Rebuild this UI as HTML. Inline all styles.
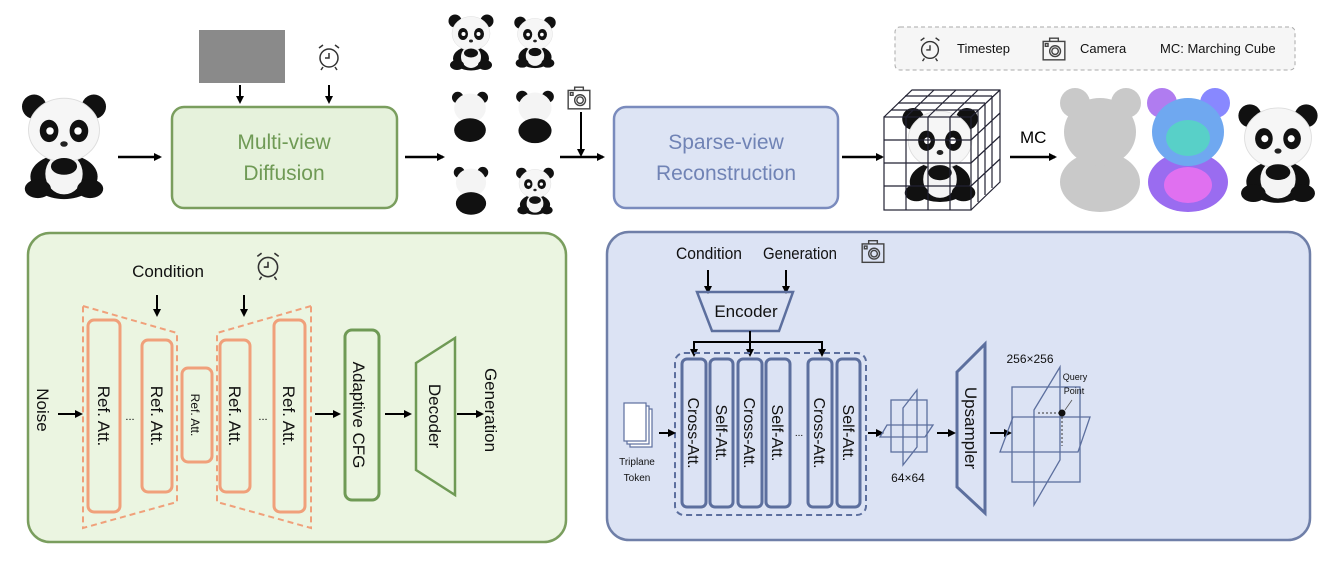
<!DOCTYPE html>
<html><head><meta charset="utf-8"><style>
html,body{margin:0;padding:0;background:#fff;}
svg{display:block;font-family:"Liberation Sans",sans-serif;}
</style></head><body>
<svg width="1341" height="564" viewBox="0 0 1341 564" xmlns="http://www.w3.org/2000/svg">
<defs>
<marker id="ah" markerWidth="8" markerHeight="8" refX="6" refY="4" orient="auto" markerUnits="userSpaceOnUse"><path d="M0,0 L8,4 L0,8 z" fill="#000"/></marker>
<symbol id="panda" viewBox="0 0 100 120">
<ellipse cx="50" cy="95" rx="36" ry="24" fill="#111"/>
<ellipse cx="50" cy="92" rx="20" ry="22" fill="#f4f4f4"/>
<ellipse cx="22" cy="108" rx="14" ry="10" fill="#111"/>
<ellipse cx="78" cy="108" rx="14" ry="10" fill="#111"/>
<circle cx="18" cy="20" r="13" fill="#111"/>
<circle cx="82" cy="20" r="13" fill="#111"/>
<ellipse cx="50" cy="45" rx="38" ry="34" fill="#f6f6f6" stroke="#ddd"/>
<ellipse cx="34" cy="46" rx="10" ry="12" fill="#111"/>
<ellipse cx="66" cy="46" rx="10" ry="12" fill="#111"/>
<circle cx="35" cy="46" r="4" fill="#fff"/>
<circle cx="65" cy="46" r="4" fill="#fff"/>
<ellipse cx="50" cy="60" rx="4" ry="3" fill="#222"/>
<ellipse cx="50" cy="84" rx="14" ry="9" fill="#111"/>
</symbol>
<symbol id="pback" viewBox="0 0 100 120">
<circle cx="22" cy="18" r="13" fill="#111"/>
<circle cx="78" cy="18" r="13" fill="#111"/>
<ellipse cx="50" cy="42" rx="36" ry="33" fill="#f4f4f4"/>
<ellipse cx="50" cy="92" rx="36" ry="27" fill="#111"/>
</symbol>
<symbol id="clock" viewBox="0 0 30 30">
<g fill="none" stroke="#333" stroke-width="1.5"><circle cx="15" cy="16" r="9"/><path d="M15,11 V16 H11"/><path d="M5,6 L9,3 M25,6 L21,3 M9,25 L7,28 M21,25 L23,28"/></g>
</symbol>
<symbol id="cam" viewBox="0 0 24 24">
<g fill="none" stroke="#444" stroke-width="1.3"><rect x="2" y="5" width="20" height="17"/><path d="M8,5 V2 H16 V5"/><circle cx="13" cy="14" r="5"/><circle cx="13" cy="14" r="3"/><rect x="4" y="7" width="2.5" height="2.5"/></g>
</symbol>
</defs>

<!-- TOP ROW -->
<use href="#panda" x="16" y="88" width="96" height="112"/>
<line x1="118" y1="157" x2="160" y2="157" stroke="#000" stroke-width="2.5" marker-end="url(#ah)"/>
<rect x="199" y="30" width="86" height="53" fill="#8a8a8a"/>
<use href="#clock" x="314" y="40" width="30" height="34"/>
<line x1="240" y1="85" x2="240" y2="102" stroke="#000" stroke-width="2" marker-end="url(#ah)"/>
<line x1="329" y1="85" x2="329" y2="102" stroke="#000" stroke-width="2" marker-end="url(#ah)"/>
<rect x="172" y="107" width="225" height="101" rx="12" fill="#e6f2dc" stroke="#7a9e5e" stroke-width="2.5"/>
<text x="284" y="149" font-size="21" fill="#6f9a55" text-anchor="middle">Multi-view</text>
<text x="284" y="180" font-size="21" fill="#6f9a55" text-anchor="middle">Diffusion</text>
<line x1="405" y1="157" x2="443" y2="157" stroke="#000" stroke-width="2.5" marker-end="url(#ah)"/>
<use href="#panda" x="446" y="8" width="50" height="66"/>
<use href="#panda" x="512" y="8" width="46" height="66"/>
<use href="#pback" x="448" y="82" width="44" height="68"/>
<use href="#pback" x="512" y="82" width="46" height="68"/>
<use href="#pback" x="450" y="158" width="42" height="64"/>
<use href="#panda" x="514" y="158" width="42" height="64"/>
<use href="#cam" x="566" y="85" width="26" height="26"/>
<line x1="581" y1="112" x2="581" y2="155" stroke="#000" stroke-width="2" marker-end="url(#ah)"/>
<line x1="560" y1="157" x2="603" y2="157" stroke="#000" stroke-width="2.5" marker-end="url(#ah)"/>
<rect x="614" y="107" width="224" height="101" rx="12" fill="#dde4f4" stroke="#7a8bbd" stroke-width="2.5"/>
<text x="726" y="149" font-size="21" fill="#7083b5" text-anchor="middle">Sparse-view</text>
<text x="726" y="180" font-size="21" fill="#7083b5" text-anchor="middle">Reconstruction</text>
<line x1="842" y1="157" x2="882" y2="157" stroke="#000" stroke-width="2.5" marker-end="url(#ah)"/>
<!-- cube -->
<use href="#panda" x="898" y="100" width="84" height="105"/>
<g fill="none" stroke="#223" stroke-width="1.2">
<rect x="884" y="117" width="87" height="93"/>
<path d="M884,117 L912,90 L1000,90 L1000,182 L971,210 M971,117 L1000,90"/>
<path d="M906,117V210 M928,117V210 M950,117V210 M884,140H971 M884,163H971 M884,186H971"/>
<path d="M906,117 L934,90 M928,117 L956,90 M950,117 L978,90 M891,110 L978,110 M898,103 L985,103 M905,96 L992,96"/>
<path d="M978,110V202 M985,103V195 M992,96V188 M971,140 L1000,113 M971,163 L1000,136 M971,186 L1000,159"/>
</g>
<text x="1020" y="143" font-size="17" fill="#000">MC</text>
<line x1="1010" y1="157" x2="1055" y2="157" stroke="#000" stroke-width="2.5" marker-end="url(#ah)"/>
<g fill="#c9c9c9"><circle cx="1075" cy="103" r="15"/><circle cx="1126" cy="103" r="15"/><ellipse cx="1100" cy="182" rx="40" ry="30"/><ellipse cx="1100" cy="132" rx="36" ry="34"/></g>
<g><circle cx="1162" cy="103" r="15" fill="#b07cf0"/><circle cx="1215" cy="103" r="15" fill="#8888ff"/><ellipse cx="1188" cy="182" rx="40" ry="30" fill="#9a6cf0"/><ellipse cx="1188" cy="132" rx="36" ry="34" fill="#6fa8f0"/><ellipse cx="1188" cy="138" rx="22" ry="18" fill="#58d0c8"/><ellipse cx="1188" cy="185" rx="24" ry="18" fill="#e070f0"/></g>
<use href="#panda" x="1234" y="92" width="88" height="118"/>
<!-- legend -->
<rect x="895" y="27" width="400" height="43" rx="5" fill="#f6f6f6" stroke="#aaa" stroke-dasharray="4,3"/>
<use href="#clock" x="916" y="34" width="28" height="30"/>
<text x="957" y="53" font-size="13" fill="#111">Timestep</text>
<use href="#cam" x="1041" y="36" width="26" height="26"/>
<text x="1080" y="53" font-size="13" fill="#111">Camera</text>
<text x="1160" y="53" font-size="13" fill="#111">MC:  Marching Cube</text>

<!-- BOTTOM LEFT -->
<rect x="28" y="233" width="538" height="309" rx="22" fill="#ebf5e1" stroke="#7a9e5e" stroke-width="2.5"/>
<text x="168" y="277" font-size="17" text-anchor="middle" fill="#111">Condition</text>
<use href="#clock" x="252" y="250" width="32" height="32"/>
<line x1="157" y1="295" x2="157" y2="315" stroke="#000" stroke-width="2" marker-end="url(#ah)"/>
<line x1="244" y1="295" x2="244" y2="315" stroke="#000" stroke-width="2" marker-end="url(#ah)"/>
<g fill="none" stroke="#f0a07a" stroke-width="2" stroke-dasharray="6,4">
<path d="M83,306 L177,333 L177,502 L83,528 Z"/>
<path d="M311,306 L217,333 L217,502 L311,528 Z"/>
</g>
<g fill="none" stroke="#f0a07a" stroke-width="3">
<rect x="88" y="320" width="32" height="192" rx="6"/>
<rect x="142" y="340" width="30" height="152" rx="6"/>
<rect x="182" y="368" width="30" height="94" rx="6"/>
<rect x="220" y="340" width="30" height="152" rx="6"/>
<rect x="274" y="320" width="31" height="192" rx="6"/>
</g>
<g font-size="17" fill="#111" text-anchor="middle">
<text transform="translate(98,416) rotate(90)">Ref. Att.</text>
<text transform="translate(151,416) rotate(90)">Ref. Att.</text>
<text transform="translate(191,415) rotate(90)" font-size="12">Ref. Att.</text>
<text transform="translate(229,416) rotate(90)">Ref. Att.</text>
<text transform="translate(283,416) rotate(90)">Ref. Att.</text>
<text transform="translate(37,410) rotate(90)">Noise</text>
<text transform="translate(353,415) rotate(90)">Adaptive CFG</text>
<text transform="translate(429,416) rotate(90)">Decoder</text>
<text transform="translate(485,410) rotate(90)">Generation</text>
</g>
<text x="130" y="420" font-size="11" text-anchor="middle">...</text>
<text x="263" y="420" font-size="11" text-anchor="middle">...</text>
<line x1="58" y1="414" x2="81" y2="414" stroke="#000" stroke-width="2" marker-end="url(#ah)"/>
<line x1="315" y1="414" x2="339" y2="414" stroke="#000" stroke-width="2" marker-end="url(#ah)"/>
<rect x="345" y="330" width="34" height="170" rx="7" fill="none" stroke="#6f9a55" stroke-width="3"/>
<line x1="385" y1="414" x2="410" y2="414" stroke="#000" stroke-width="2" marker-end="url(#ah)"/>
<path d="M416,363 L455,338 L455,495 L416,470 Z" fill="none" stroke="#6f9a55" stroke-width="2.5"/>
<line x1="457" y1="414" x2="482" y2="414" stroke="#000" stroke-width="2" marker-end="url(#ah)"/>

<!-- BOTTOM RIGHT -->
<rect x="607" y="232" width="703" height="308" rx="22" fill="#dce3f4" stroke="#6f7fa8" stroke-width="2.5"/>
<text x="709" y="259" font-size="17" fill="#111" text-anchor="middle" textLength="66" lengthAdjust="spacingAndGlyphs">Condition</text>
<text x="800" y="259" font-size="17" fill="#111" text-anchor="middle" textLength="74" lengthAdjust="spacingAndGlyphs">Generation</text>
<use href="#cam" x="860" y="238" width="26" height="27"/>
<line x1="708" y1="270" x2="708" y2="292" stroke="#000" stroke-width="2" marker-end="url(#ah)"/>
<line x1="786" y1="270" x2="786" y2="292" stroke="#000" stroke-width="2" marker-end="url(#ah)"/>
<path d="M697,292 L793,292 L779,331 L712,331 Z" fill="none" stroke="#5c6f9e" stroke-width="2.5"/>
<text x="746" y="317" font-size="17" text-anchor="middle" fill="#111">Encoder</text>
<path d="M750,331 V342 M694,342 H822" stroke="#000" stroke-width="2" fill="none"/>
<line x1="694" y1="341" x2="694" y2="355" stroke="#000" stroke-width="2" marker-end="url(#ah)"/>
<line x1="750" y1="341" x2="750" y2="355" stroke="#000" stroke-width="2" marker-end="url(#ah)"/>
<line x1="822" y1="341" x2="822" y2="355" stroke="#000" stroke-width="2" marker-end="url(#ah)"/>
<rect x="675" y="353" width="191" height="162" rx="9" fill="none" stroke="#5c6f9e" stroke-width="2" stroke-dasharray="6,4"/>
<g fill="none" stroke="#5c6f9e" stroke-width="3">
<rect x="682" y="359" width="24" height="148" rx="5"/>
<rect x="710" y="359" width="23" height="148" rx="5"/>
<rect x="738" y="359" width="24" height="148" rx="5"/>
<rect x="766" y="359" width="24" height="148" rx="5"/>
<rect x="808" y="359" width="24" height="148" rx="5"/>
<rect x="837" y="359" width="23" height="148" rx="5"/>
</g>
<g font-size="16" fill="#111" text-anchor="middle">
<text transform="translate(688,433) rotate(90)">Cross-Att.</text>
<text transform="translate(716,433) rotate(90)">Self-Att.</text>
<text transform="translate(744,433) rotate(90)">Cross-Att.</text>
<text transform="translate(772,433) rotate(90)">Self-Att.</text>
<text transform="translate(814,433) rotate(90)">Cross-Att.</text>
<text transform="translate(843,433) rotate(90)">Self-Att.</text>
<text transform="translate(965,428) rotate(90)" font-size="17">Upsampler</text>
</g>
<text x="799" y="436" font-size="10" text-anchor="middle">...</text>
<g fill="#fff" stroke="#5c6f9e" stroke-width="1.2"><rect x="630" y="409" width="22" height="38"/><rect x="627" y="406" width="22" height="38"/><rect x="624" y="403" width="22" height="38"/></g>
<text x="637" y="465" font-size="10" text-anchor="middle" fill="#111">Triplane</text>
<text x="637" y="481" font-size="10" text-anchor="middle" fill="#111">Token</text>
<line x1="659" y1="433" x2="674" y2="433" stroke="#000" stroke-width="2" marker-end="url(#ah)"/>
<line x1="868" y1="433" x2="882" y2="433" stroke="#000" stroke-width="2" marker-end="url(#ah)"/>
<g fill="none" stroke="#5c6f9e" stroke-width="1.3">
<rect x="891" y="400" width="36" height="52"/>
<path d="M903,408 L917,390 L917,447 L903,465 Z"/>
<path d="M887,425 L933,425 L925,437 L880,437 Z"/>
</g>
<text x="908" y="482" font-size="12" text-anchor="middle" fill="#111">64×64</text>
<line x1="937" y1="433" x2="954" y2="433" stroke="#000" stroke-width="2" marker-end="url(#ah)"/>
<path d="M957,372 L985,344 L985,513 L957,487 Z" fill="none" stroke="#5c6f9e" stroke-width="3"/>
<line x1="990" y1="433" x2="1010" y2="433" stroke="#000" stroke-width="2" marker-end="url(#ah)"/>
<g fill="none" stroke="#5c6f9e" stroke-width="1.3">
<rect x="1012" y="387" width="68" height="95"/>
<path d="M1034,410 L1060,367 L1060,460 L1034,505 Z"/>
<path d="M1013,417 L1090,417 L1078,452 L1000,452 Z"/>
</g>
<path d="M1038,413 H1062 V446" stroke="#333" stroke-width="1" stroke-dasharray="2,2" fill="none"/>
<circle cx="1062" cy="413" r="3.5" fill="#111"/>
<line x1="1065" y1="410" x2="1072" y2="400" stroke="#555" stroke-width="0.8"/>
<text x="1030" y="363" font-size="12" text-anchor="middle" fill="#111">256×256</text>
<text x="1075" y="380" font-size="9" text-anchor="middle" fill="#111">Query</text>
<text x="1074" y="394" font-size="9" text-anchor="middle" fill="#111">Point</text>
</svg>
</body></html>
